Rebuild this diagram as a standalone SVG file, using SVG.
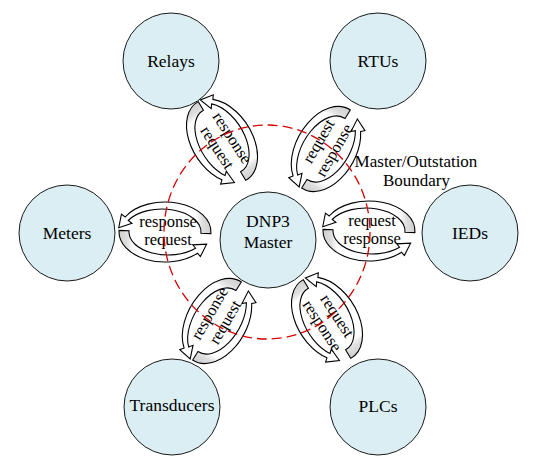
<svg xmlns="http://www.w3.org/2000/svg" xmlns:xlink="http://www.w3.org/1999/xlink" width="551" height="464" viewBox="0 0 551 464">
<defs>
<linearGradient id="g" x1="1" y1="0" x2="0" y2="0">
<stop offset="0" stop-color="#cfcfcf"/>
<stop offset="0.09" stop-color="#dedede"/>
<stop offset="0.17" stop-color="#ffffff"/>
</linearGradient>
<path id="ta" d="M 45.94 1.57 A 46 30 0 0 0 -39.84 -15 L -43.55 -17.89 L -46.27 -4.26 L -33.07 -8.61 L -36.77 -11.5 A 39 23 0 0 1 35.95 1.2 Z"/>
<path id="ba" d="M 45.94 1.57 A 46 30 0 0 0 -32.53 -21.21 L -35.37 -24.61 L -41.61 -12.19 L -27.73 -12.87 L -30.58 -16.26 A 39 23 0 0 1 35.95 1.2 Z"/>
</defs>
<style>
.node{fill:#daeef3;stroke:#1a1a1a;stroke-width:1}
.lbl{font-family:"Liberation Serif","Times New Roman",serif;font-size:17.5px;fill:#000;text-anchor:middle}
.al{font-family:"Liberation Serif","Times New Roman",serif;font-size:16.5px;fill:#000;text-anchor:middle}
.arr{fill:url(#g);stroke:#000;stroke-width:1.1}
.bnd{fill:none;stroke:#d40000;stroke-width:1.3;stroke-dasharray:10 5}
</style>
<rect width="551" height="464" fill="#fff"/>
<g id="node-relays"><circle class="node" cx="171" cy="61" r="48"/><text class="lbl" x="171" y="66.5">Relays</text></g>
<g id="node-rtus"><circle class="node" cx="378" cy="61" r="48"/><text class="lbl" x="378" y="66.5">RTUs</text></g>
<g id="node-meters"><circle class="node" cx="67" cy="233" r="48"/><text class="lbl" x="67" y="238.5">Meters</text></g>
<g id="node-master"><circle class="node" cx="268" cy="240" r="48"/><text class="lbl" x="268" y="226.5">DNP3</text><text class="lbl" x="268" y="247.5">Master</text></g>
<g id="node-ieds"><circle class="node" cx="470" cy="233" r="48"/><text class="lbl" x="470" y="238.5">IEDs</text></g>
<g id="node-transducers"><circle class="node" cx="172" cy="407" r="48"/><text class="lbl" x="172" y="411">Transducers</text></g>
<g id="node-plcs"><circle class="node" cx="378" cy="407" r="48"/><text class="lbl" x="378" y="412">PLCs</text></g>
<g id="connectors">
<g id="c-meters" transform="translate(165,232)">
<use xlink:href="#ta" class="arr"/><use xlink:href="#ba" class="arr" transform="rotate(180)"/>
<text class="al" x="3" y="-5">response</text><text class="al" x="3" y="13">request</text>
</g>
<g id="c-ieds" transform="translate(369,231)">
<use xlink:href="#ta" class="arr"/><use xlink:href="#ba" class="arr" transform="rotate(180)"/>
<text class="al" x="3" y="-5">request</text><text class="al" x="3" y="13">response</text>
</g>
<g id="c-relays" transform="translate(222,141) rotate(57)">
<use xlink:href="#ta" class="arr"/><use xlink:href="#ba" class="arr" transform="rotate(180)"/>
<text class="al" x="3" y="-5">response</text><text class="al" x="3" y="13">request</text>
</g>
<g id="c-transducers" transform="translate(217,321) rotate(-60)">
<use xlink:href="#ta" class="arr"/><use xlink:href="#ba" class="arr" transform="rotate(180)"/>
<text class="al" x="3" y="-5">response</text><text class="al" x="3" y="13">request</text>
</g>
<g id="c-rtus" transform="translate(326,149) rotate(-60)">
<use xlink:href="#ta" class="arr"/><use xlink:href="#ba" class="arr" transform="rotate(180)"/>
<text class="al" x="3" y="-5">request</text><text class="al" x="3" y="13">response</text>
</g>
<g id="c-plcs" transform="translate(327,319) rotate(57)">
<use xlink:href="#ta" class="arr"/><use xlink:href="#ba" class="arr" transform="rotate(180)"/>
<text class="al" x="3" y="-5">request</text><text class="al" x="3" y="13">response</text>
</g>
</g>
<g id="boundary">
<ellipse class="bnd" cx="267" cy="232" rx="103" ry="107"/>
<text class="lbl" x="416" y="166.5" style="font-size:17px">Master/Outstation</text>
<text class="lbl" x="416.5" y="186" style="font-size:17px">Boundary</text>
</g>
</svg>
